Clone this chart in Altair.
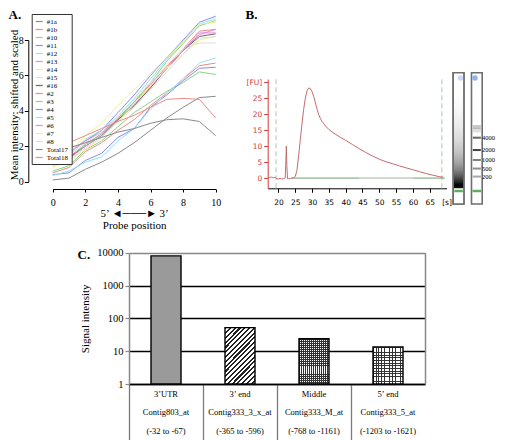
import altair as alt
import pandas as pd

SERIF = "Liberation Serif"
SANS = "DejaVu Sans"
W, H = 489, 432

# ---------------- Panel A : probe intensity profiles ----------------
probe_positions = [0, 1, 2, 3, 4, 5, 6, 7, 8, 9, 10]
series_names = ["#1a", "#1b", "#10", "#11", "#12", "#13", "#14", "#15", "#16",
                "#2", "#3", "#4", "#5", "#6", "#7", "#8", "Total17", "Total18"]
series_colors = ["#8a8a8a", "#f08a8a", "#86d886", "#8a8af2", "#8ee6f0", "#e08ae0",
                 "#f2f28a", "#dedede", "#6e6464", "#f08a8a", "#86d886", "#8a8af2",
                 "#8ee6f0", "#e08ae0", "#f2f28a", "#dedede", "#8a8a8a", "#f08a8a"]
s_1a = [0.10, 0.20, 0.70, 1.10, 1.60, 2.20, 2.90, 3.60, 4.20, 4.75, 4.82]
s_1b = [1.00, 1.40, 2.10, 2.70, 3.60, 4.50, 5.50, 6.50, 7.50, 8.50, 8.60]
s_10 = [0.90, 1.30, 2.10, 2.70, 3.50, 4.50, 5.60, 6.80, 7.80, 8.80, 9.10]
s_11 = [1.20, 1.60, 2.30, 2.90, 3.90, 4.90, 6.00, 7.00, 8.00, 9.00, 9.34]
s_12 = [1.30, 1.50, 2.40, 2.90, 3.70, 4.70, 5.80, 6.90, 7.90, 8.90, 9.20]
s_13 = [1.40, 1.70, 2.30, 2.80, 3.50, 4.30, 5.30, 6.40, 7.40, 8.30, 8.60]
s_14 = [1.10, 1.60, 2.60, 3.30, 4.30, 5.20, 6.10, 7.00, 7.90, 8.90, 9.00]
s_15 = [1.10, 1.50, 2.20, 2.80, 3.70, 4.60, 5.60, 6.60, 7.50, 7.83, 7.83]
s_16 = [1.05, 1.35, 2.00, 2.60, 3.50, 4.30, 5.30, 6.40, 7.40, 8.20, 8.35]
s_2 = [0.50, 0.80, 1.70, 2.20, 2.90, 3.50, 4.30, 5.00, 5.80, 6.55, 6.70]
s_3 = [0.60, 0.90, 1.80, 2.30, 3.10, 3.90, 4.50, 5.10, 5.60, 6.20, 6.05]
s_4 = [0.40, 0.50, 1.20, 1.60, 2.50, 3.00, 4.20, 4.90, 5.70, 6.40, 6.46]
s_5 = [0.35, 0.60, 1.10, 1.40, 2.30, 3.00, 4.10, 5.00, 5.80, 6.70, 6.99]
s_6 = [1.00, 1.30, 2.00, 2.60, 3.40, 4.40, 5.40, 6.40, 7.40, 8.40, 8.40]
s_7 = [0.80, 1.20, 1.80, 2.50, 3.40, 4.40, 5.40, 6.40, 7.20, 8.00, 8.20]
s_8 = [0.90, 1.20, 1.90, 2.50, 3.40, 4.20, 5.20, 6.20, 7.20, 8.10, 8.20]
s_total17 = [1.68, 1.90, 2.20, 2.50, 2.80, 3.00, 3.30, 3.50, 3.55, 3.40, 2.60]
s_total18 = [1.81, 2.20, 2.60, 3.00, 3.40, 3.75, 4.20, 4.65, 4.70, 4.65, 3.60]
series_values = [s_1a, s_1b, s_10, s_11, s_12, s_13, s_14, s_15, s_16,
                 s_2, s_3, s_4, s_5, s_6, s_7, s_8, s_total17, s_total18]

# ---------------- Panel B : electropherogram + gel ----------------
trace_time = [17.0, 17.5, 18.0, 18.5, 19.0, 19.5, 20.0, 20.5, 21.0, 21.5,
              22.0, 22.2, 22.35, 22.5, 22.7, 23.0, 23.5, 24.0, 24.5, 25.0,
              25.5, 26.0, 26.5, 27.0, 27.5, 28.0, 28.5, 29.0, 29.5, 30.0,
              30.5, 31.0, 31.5, 32.0, 32.5, 33.0, 34.0, 35.0, 36.0, 38.0,
              40.0, 42.0, 44.0, 46.0, 48.0, 50.0, 52.0, 54.0, 56.0, 58.0,
              60.0, 62.0, 64.0, 66.0, 68.0, 69.0]
trace_fu = [0.3, 0.2, 0.3, 0.1, 0.2, -0.2, -0.3, -0.1, -0.3, -0.2,
            0.0, 5.0, 10.0, 4.0, -0.2, -0.2, -0.1, 0.0, 0.1, 0.5,
            2.4, 7.0, 12.0, 17.0, 21.5, 25.0, 27.3, 28.2, 28.0, 27.0,
            25.5, 23.5, 21.5, 19.8, 18.6, 17.7, 16.3, 15.2, 14.4, 13.0,
            11.8, 10.5, 9.2, 8.0, 6.9, 5.9, 5.1, 4.5, 3.8, 3.2,
            2.6, 2.0, 1.4, 0.9, 0.4, 0.3]
baseline_time = [24.0, 69.5]
baseline_fu = [0.0, 0.0]
baseline_light_time = [44.0, 60.0]
window_times = [19.3, 68.6]
fu_ticks = [0, 5, 10, 15, 20, 25, 30]
time_ticks = [20, 25, 30, 35, 40, 45, 50, 55, 60, 65, 70]

lanes = ["sample", "ladder"]
ladder_sizes = ["4000", "2000", "1000", "500", "200"]
ladder_positions = [50.5, 41.1, 33.5, 27.0, 20.9]
ladder_intensity = [0.6, 0.75, 0.5, 0.45, 0.35]
faint_positions = [58.6, 56.0]
faint_intensity = [0.22, 0.12]
marker_positions = [9.9, 9.9]
well_positions = [96.0, 96.0]

# ---------------- Panel C : probe-set signal ----------------
regions = ["3\u2019UTR", "3\u2019 end", "Middle", "5\u2019 end"]
probe_sets = ["Contig803_at", "Contig333_3_x_at", "Contig333_M_at", "Contig333_5_at"]
probe_ranges = ["(-32 to -67)", "(-365 to -596)", "(-768 to -1161)", "(-1203 to -1621)"]
signal_values = [8000, 52, 24, 13.5]
signal_ticks = [1, 10, 100, 1000, 10000]

# ---------------- data frames ----------------
df_a = pd.DataFrame([
    {"series": n, "position": p, "intensity": v}
    for n, vals in zip(series_names, series_values)
    for p, v in zip(probe_positions, vals)
])
df_trace = pd.DataFrame({"time": trace_time, "fu": trace_fu})
df_base = pd.DataFrame({"time": baseline_time, "fu": baseline_fu})
df_base_light = pd.DataFrame({"time": baseline_light_time, "fu": baseline_fu})
df_win = pd.DataFrame({"time": window_times})
df_lanes = pd.DataFrame({"lane": lanes})
df_ladder = pd.DataFrame({"lane": "ladder", "size": ladder_sizes,
                          "position": ladder_positions, "intensity": ladder_intensity})
df_faint = pd.DataFrame({"lane": "ladder", "position": faint_positions,
                         "intensity": faint_intensity})
df_marker = pd.DataFrame({"lane": lanes, "position": marker_positions})
df_wells = pd.DataFrame({"lane": lanes, "position": well_positions})
c_cats = [f"{r}|{p}|{g}" for r, p, g in zip(regions, probe_sets, probe_ranges)]
df_c = pd.DataFrame({"probe": c_cats, "signal": signal_values})

# ---------------- scales ----------------
a_x = alt.Scale(domain=[0, 10], range=[44.7, 207.7], nice=False, zero=False)
a_y = alt.Scale(domain=[0, 8], range=[173.7, 32.0], nice=False, zero=False)
b_x = alt.Scale(domain=[16.8, 70], range=[259.7, 438.5], nice=False, zero=False)
b_y = alt.Scale(domain=[-3.2, 31], range=[180.3, 71.0], nice=False, zero=False)
g_x = alt.Scale(domain=lanes, range=[445.2, 474.2], paddingInner=0.415, paddingOuter=0)
g_y = alt.Scale(domain=[0, 100], range=[196.0, 64.7], nice=False, zero=False)
c_x = alt.Scale(domain=c_cats, range=[121.0, 417.0], paddingInner=0, paddingOuter=0)
c_y = alt.Scale(type="log", domain=[1, 10000], range=[376.0, 244.7], nice=False)

RED = "#d23c3c"

# ---------------- Panel A layer ----------------
panel_a = alt.Chart(df_a).mark_line(strokeWidth=1).encode(
    x=alt.X("position:Q", scale=a_x, axis=alt.Axis(
        orient="bottom", offset=181 - H, values=[0, 2, 4, 6, 8, 10], grid=False,
        domainColor="black", domainWidth=1, tickColor="black", tickSize=3, tickWidth=1,
        labelColor="black", labelFont=SERIF, labelFontSize=10, labelPadding=5,
        labelFlush=False, labelOverlap=False,
        title=["5\u2019 \u25c4\u2500\u2500\u2500\u25ba 3\u2019", "Probe position"],
        titleFont=SERIF, titleFontSize=11, titleFontWeight="normal", titleColor="black",
        titleBaseline="top", titleY=18, titleLineHeight=12.3)),
    y=alt.Y("intensity:Q", scale=a_y, axis=alt.Axis(
        orient="left", offset=-20.3, values=[0, 2, 4, 6, 8], grid=False,
        domainColor="black", domainWidth=1, tickColor="black", tickSize=4, tickWidth=1,
        labelColor="black", labelFont=SERIF, labelFontSize=10, labelPadding=1,
        labelOverlap=False,
        title="Mean intensity: shifted and scaled", titleFont=SERIF, titleFontSize=11,
        titleFontWeight="normal", titleColor="black", titleAngle=-90,
        titleBaseline="middle", titleAlign="center", titleX=-14.3, titleY=96.5)),
    color=alt.Color("series:N", scale=alt.Scale(domain=series_names, range=series_colors),
                    title=None,
                    legend=alt.Legend(orient="none", legendX=23.7, legendY=6,
                                      direction="vertical", symbolType="stroke",
                                      symbolSize=49, symbolStrokeWidth=1.2,
                                      labelFont=SERIF, labelFontSize=7, labelColor="black",
                                      labelOffset=3, rowPadding=-1.0,
                                      padding=3, strokeColor="#333333", fillColor="white")),
)

# ---------------- Panel B layers ----------------
b_window = alt.Chart(df_win).mark_rule(color="#c9dcc9", strokeWidth=1.5, strokeDash=[5, 3]).encode(
    x=alt.X("time:Q", scale=b_x, axis=None),
    y=alt.YDatum(-3.2, scale=b_y, axis=None),
    y2=alt.Y2Datum(31),
)
# this layer also carries the panel letter "A." as the title of a bare top axis
b_base = alt.Chart(df_base).mark_line(color="#74a274", strokeWidth=1).encode(
    x=alt.X("time:Q", scale=b_x, axis=alt.Axis(
        orient="top", offset=0, domain=False, ticks=False, labels=False, grid=False,
        title="A.", titleX=0, titleY=0, titleAngle=0, titleAlign="left",
        titleBaseline="top", titleFont=SERIF, titleFontSize=13, titleFontWeight="bold",
        titleColor="black")),
    y=alt.Y("fu:Q", scale=b_y, axis=None),
)
b_base_light = alt.Chart(df_base_light).mark_line(color="#cfdccf", strokeWidth=2).encode(
    x=alt.X("time:Q", scale=b_x, axis=None),
    y=alt.Y("fu:Q", scale=b_y, axis=None),
)
b_trace = alt.Chart(df_trace).mark_line(color="#c26d6d", strokeWidth=1).encode(
    x=alt.X("time:Q", scale=b_x, axis=alt.Axis(
        orient="bottom", offset=180.3 - H, values=time_ticks, grid=False,
        labelExpr="datum.value == 70 ? '[s]' : datum.label",
        domainColor="black", domainWidth=1, tickColor="black", tickSize=4, tickWidth=1,
        tickOpacity={"condition": {"test": "datum.value == 70", "value": 0}, "value": 1},
        labelColor="black", labelFont=SANS, labelFontSize=7.5, labelPadding=6,
        labelFlush=False, labelOverlap=False, title=None)),
    y=alt.Y("fu:Q", scale=b_y, axis=alt.Axis(
        orient="left", offset=-259.7, values=fu_ticks, grid=False,
        labelExpr="datum.value == 30 ? '[FU]' : datum.label",
        domainColor=RED, domainWidth=1, tickColor=RED, tickSize=4, tickWidth=1,
        labelColor=RED, labelFont=SANS, labelFontSize=7.5, labelPadding=2, labelOverlap=False,
        title="B.", titleX=-22.7, titleY=0, titleAngle=0, titleAlign="left",
        titleBaseline="top", titleFont=SERIF, titleFontSize=13, titleFontWeight="bold",
        titleColor="black")),
)

gel_gradient = {
    "gradient": "linear", "x1": 0, "y1": 0, "x2": 0, "y2": 1,
    "stops": [
        {"offset": 0.0, "color": "#ffffff"}, {"offset": 0.16, "color": "#ffffff"},
        {"offset": 0.30, "color": "#f6f6f6"}, {"offset": 0.41, "color": "#eaeaea"},
        {"offset": 0.52, "color": "#d8d8d8"}, {"offset": 0.61, "color": "#c2c2c2"},
        {"offset": 0.68, "color": "#a6a6a6"}, {"offset": 0.74, "color": "#848484"},
        {"offset": 0.79, "color": "#585858"}, {"offset": 0.83, "color": "#282828"},
        {"offset": 0.855, "color": "#000000"}, {"offset": 0.875, "color": "#111111"},
        {"offset": 0.884, "color": "#ffffff"}, {"offset": 1.0, "color": "#ffffff"},
    ],
}
lane_boxes = alt.Chart(df_lanes).mark_bar(fill="white", stroke="#6e6e6e", strokeWidth=1.6).encode(
    x=alt.X("lane:N", scale=g_x, axis=None),
    y=alt.YDatum(0, scale=g_y, axis=None),
    y2=alt.Y2Datum(100),
)
lane_sample = alt.Chart(df_lanes).transform_filter(alt.datum.lane == "sample").mark_bar(
    fill=gel_gradient, stroke="#6e6e6e", strokeWidth=1.6).encode(
    x=alt.X("lane:N", scale=g_x, axis=None),
    y=alt.YDatum(0, scale=g_y, axis=None),
    y2=alt.Y2Datum(100),
)
ladder_faint = alt.Chart(df_faint).mark_tick(color="black", thickness=4, size=8).encode(
    x=alt.X("lane:N", scale=g_x, axis=None),
    y=alt.Y("position:Q", scale=g_y, axis=None),
    opacity=alt.Opacity("intensity:Q", scale=None, legend=None),
)
ladder_bands = alt.Chart(df_ladder).mark_tick(color="black", thickness=2, size=8).encode(
    x=alt.X("lane:N", scale=g_x, axis=None),
    y=alt.Y("position:Q", scale=g_y, axis=None),
    opacity=alt.Opacity("intensity:Q", scale=None, legend=None),
)
ladder_labels = alt.Chart(df_ladder).mark_text(
    align="left", baseline="middle", dx=7, font=SERIF, fontSize=6.5, color="black").encode(
    x=alt.X("lane:N", scale=g_x, axis=None),
    y=alt.Y("position:Q", scale=g_y, axis=None),
    text="size:N",
)
markers = alt.Chart(df_marker).mark_tick(color="#1b8c1b", thickness=2.5, size=8.5).encode(
    x=alt.X("lane:N", scale=g_x, axis=None),
    y=alt.Y("position:Q", scale=g_y, axis=None),
)
wells = alt.Chart(df_wells).mark_point(filled=True, size=30, opacity=1).encode(
    x=alt.X("lane:N", scale=g_x, axis=None),
    y=alt.Y("position:Q", scale=g_y, axis=None),
    color=alt.Color("lane:N", scale=alt.Scale(domain=lanes, range=["#ccd6f5", "#92b2f0"]),
                    legend=None),
)

# ---------------- Panel C layers ----------------
CLEAR = "rgba(255,255,255,0)"


def stripes(n, dark, light, duty, x1, y1, x2, y2):
    stops = []
    for i in range(n):
        a = round(i / n, 5)
        b = round((i + duty) / n, 5)
        c = round((i + 1) / n, 5)
        stops += [{"offset": a, "color": dark}, {"offset": b, "color": dark},
                  {"offset": b, "color": light}, {"offset": c, "color": light}]
    return {"gradient": "linear", "x1": x1, "y1": y1, "x2": x2, "y2": y2, "stops": stops}


def c_bar(fill=None, filt=None, xaxis=None, yaxis=None, **mark):
    ch = alt.Chart(df_c)
    if filt is not None:
        ch = ch.transform_filter(alt.datum.probe == filt)
    if fill is not None:
        mark["fill"] = fill
    return ch.mark_bar(size=30, **mark).encode(
        x=alt.X("probe:N", scale=c_x, axis=xaxis),
        y=alt.Y("signal:Q", scale=c_y, axis=yaxis),
        y2=alt.Y2Datum(1),
    )


c_base = c_bar(fill="white",
               xaxis=alt.Axis(orient="bottom", offset=-56, domain=False, labels=False,
                              ticks=True, tickSize=56, tickColor="#7a7a7a", tickWidth=1.3,
                              bandPosition=0, grid=False, title=None),
               yaxis=alt.Axis(orient="left", offset=-121, values=signal_ticks, format="d",
                              labelFont=SERIF, labelFontSize=10.5, labelColor="black",
                              labelPadding=2, tickSize=4, tickColor="#888888", tickWidth=1.2,
                              domainColor="#888888", domainWidth=1.5,
                              grid=True, gridWidth=1.3,
                              gridColor={"condition": {"test": "datum.value >= 10000",
                                                       "value": "#888888"},
                                         "value": "black"},
                              title="Signal intensity", titleFont=SERIF, titleFontSize=11,
                              titleFontWeight="normal", titleColor="black", titleAngle=-90,
                              titleBaseline="middle", titleAlign="center",
                              titleX=-44, titleY=310.3))
c_bar1 = c_bar(fill="#9a9a9a", filt=c_cats[0])
c_bar2 = c_bar(fill=stripes(18, "#222222", "#ffffff", 0.45, 0, 0, 0.64, 1.19), filt=c_cats[1])
c_bar3a = c_bar(fill=stripes(15, "#333333", CLEAR, 0.4, 0, 0, 1, 0), filt=c_cats[2])
c_bar3b = c_bar(fill=stripes(22, "#333333", CLEAR, 0.4, 0, 0, 0, 1), filt=c_cats[2])
c_bar4a = c_bar(fill=stripes(11, "#333333", CLEAR, 0.3, 0, 0, 1, 0), filt=c_cats[3])
c_bar4b = c_bar(fill=stripes(14, "#333333", CLEAR, 0.3, 0, 0, 0, 1), filt=c_cats[3])
c_outline = c_bar(fillOpacity=0, stroke="black", strokeWidth=1.4,
                  xaxis=alt.Axis(orient="bottom", offset=-56, domain=True, domainColor="black",
                                 domainWidth=1.5, ticks=False, tickSize=0, grid=False,
                                 labelExpr="split(datum.label, '|')", labelAngle=0,
                                 labelFont=SERIF, labelFontSize=8.5, labelColor="black",
                                 labelLineHeight=18.5, labelPadding=5, labelBaseline="top",
                                 labelOverlap=False,
                                 title="C.", titleX=69, titleY=-136, titleAngle=0,
                                 titleAlign="left", titleBaseline="top", titleFont=SERIF,
                                 titleFontSize=13, titleFontWeight="bold", titleColor="black"),
                  yaxis=alt.Axis(orient="right", offset=417 - W, domain=True,
                                 domainColor="#888888", domainWidth=1.5, ticks=False,
                                 labels=False, grid=False, title=None))

chart = alt.layer(
    panel_a,
    b_window, b_base, b_base_light, b_trace,
    lane_boxes, lane_sample, ladder_faint, ladder_bands, markers, wells, ladder_labels,
    c_base, c_bar1, c_bar2, c_bar3a, c_bar3b, c_bar4a, c_bar4b, c_outline,
).resolve_scale(
    x="independent", y="independent", color="independent", opacity="independent"
).properties(
    width=W, height=H, autosize=alt.AutoSizeParams(type="none"), padding=0,
).configure_view(stroke=None)

chart.save("out.html", embed_options={"renderer": "svg", "actions": False})
